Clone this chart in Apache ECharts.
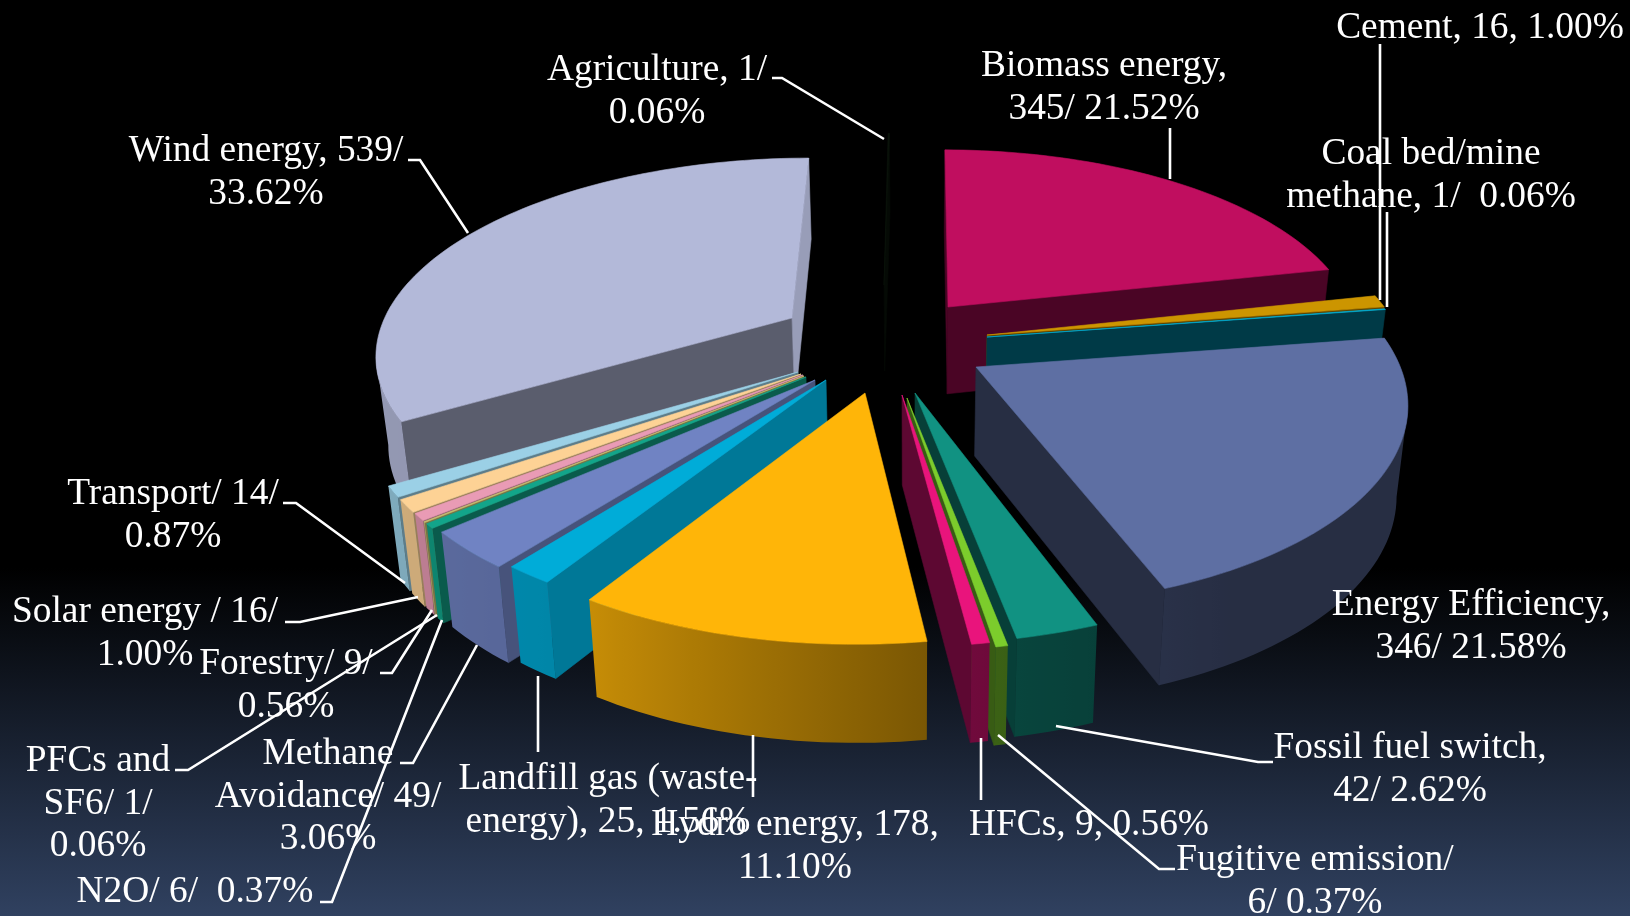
<!DOCTYPE html>
<html><head><meta charset="utf-8">
<style>html,body{margin:0;padding:0;background:#000}#c{width:1630px;height:916px}</style>
<script src="https://cdn.jsdelivr.net/npm/echarts@6/dist/echarts.min.js"></script>
</head><body><div id="c"></div>
<script>
// ---- data, clockwise from 12 o'clock
const categories = ["Agriculture","Biomass energy","Cement","Coal bed/mine methane","Energy Efficiency","Fossil fuel switch","Fugitive emission","HFCs","Hydro energy","Landfill gas (waste-energy)","Methane Avoidance","N2O","PFCs and SF6","Forestry","Solar energy","Transport","Wind energy"];
const values = [1,345,16,1,346,42,6,9,178,25,49,6,1,9,16,14,539];
const labelLines = [
 ["Agriculture, 1/","0.06%"],["Biomass energy,","345/ 21.52%"],["Cement, 16, 1.00%"],["Coal bed/mine","methane, 1/  0.06%"],
 ["Energy Efficiency,","346/ 21.58%"],["Fossil fuel switch,","42/ 2.62%"],["Fugitive emission/","6/ 0.37%"],["HFCs, 9, 0.56%"],
 ["Hydro energy, 178,","11.10%"],["Landfill gas (waste-","energy), 25, 1.56%"],["Methane","Avoidance/ 49/","3.06%"],["N2O/ 6/  0.37%"],
 ["PFCs and","SF6/ 1/","0.06%"],["Forestry/ 9/","0.56%"],["Solar energy / 16/","1.00%"],["Transport/ 14/","0.87%"],["Wind energy, 539/","33.62%"]];
// ---- styling and layout
const topColors = ["#0a130a","#c00e5f","#cc9500","#00b0d8","#5e6fa3","#119282","#7ccc2c","#e9147c","#ffb508","#00acd8","#7083c3","#12a58a","#c8c070","#e99bb5","#fdd295","#9bd0e6","#b3b9d9"];
const cutShadeStart = [.5,.385,.45,.33,.41,.43,.45,.4,.6,.7,.63,.55,.6,.6,.6,.6,.5];
const cutShadeEnd   = [.5,.385,.45,.33,.41,.43,.45,.4,.6,.7,.63,.55,.6,.6,.6,.6,.85];
const apexes = [[884,285],[948,307],[987,335],[987,337],[976,367],[915,393],[907,398],[902,395],[865,393],[826,380],[815,380],[806,377],[804,376],[803,375],[801,374],[798,372],[792,318]];
const paintOrder = [0,16,15,14,13,12,11,10,9,8,1,2,3,4,5,6,7];
const labelX = [657,1104,1480,1431,1471,1410,1315,1089,795,608,328,195,98,286,145,173,266];
const labelY = [70,66.5,28,154,605,748,860,825,825,779,754,892,761,664,612,494,151];
const leaders = [
 [[772,78],[782,78],[884,139]],[[1170,128],[1170,179]],[[1380,44],[1380,300]],[[1387,212],[1387,307]],
 null,[[1273,762],[1258,762],[1056,726]],[[1175,869],[1159,869],[998,735]],[[981,738],[981,800]],
 [[753,735],[753,797]],[[538,752],[538,676]],[[400,763],[413,763],[477,645]],[[320,902],[332,902],[442,620]],
 [[175,770],[188,770],[437,615]],[[380,673],[392,673],[432,610]],[[285,622],[300,622],[418,597]],[[283,503],[296,503],[405,583]],[[408,160],[420,160],[468,233]]];
const VCX=915, VCY=340, RX=415, RY=192, P=0.16, DEPTH=88, SHRINK=0.023;
const FONT='37.4px "Liberation Serif"', LINE_H=42.7;

const total = values.reduce((a,b)=>a+b,0);
const starts = []; values.reduce((acc,v,i)=>{starts[i]=acc/total*360;return acc+v;},0);
function project(X,Y){const s=1/(1+P*Y);return [VCX+RX*X*s,VCY-RY*Y*s,s];}
function unproject(sx,sy){const d=VCY-sy,Y=d/(RY-P*d),s=1/(1+P*Y);return [(sx-VCX)/(RX*s),Y];}
function lower(p){return [VCX+(p[0]-VCX)*(1-SHRINK),p[1]+DEPTH*Math.sqrt(p[2])];}
function shade(hex,f){const n=parseInt(hex.slice(1),16);const c=[n>>16,(n>>8)&255,n&255].map(v=>Math.round(v*f));return `rgb(${c[0]},${c[1]},${c[2]})`;}
function wallShade(a){
 const t=[[0,.41],[150,.41],[172,.48],[212,.78],[240,.82],[360,.87]];
 for(let i=1;i<t.length;i++) if(a<=t[i][0]){const q=(a-t[i-1][0])/(t[i][0]-t[i-1][0]);return t[i-1][1]+q*(t[i][1]-t[i-1][1]);}
 return .87;
}
function poly(points,fill){return {type:'polygon',shape:{points},silent:true,style:{fill,stroke:fill,lineWidth:.6}};}
function xy(o){return [o[0],o[1]];}
function renderSlice(params,api){
 const i=api.value(0), a0=starts[i], a1=a0+api.value(1)/total*360;
 const ap=unproject(apexes[i][0],apexes[i][1]), A=project(ap[0],ap[1]);
 const n=Math.max(1,Math.ceil((a1-a0)/1.5)), arc=[], angs=[];
 for(let k=0;k<=n;k++){const a=a0+(a1-a0)*k/n,r=a*Math.PI/180;angs.push(a);arc.push(project(ap[0]+Math.sin(r),ap[1]+Math.cos(r)));}
 const kids=[], col=topColors[i];
 const cut=(p,q,f)=>{ if(p[0]>q[0]) kids.push(poly([p,q,lower(q),lower(p)].map(xy),f)); };
 cut(A,arc[0],shade(col,cutShadeStart[i]));
 cut(arc[n],A,shade(col,cutShadeEnd[i]));
 // outer wall: the visible run of the rim as one polygon, shaded with angle
 const run=[];
 for(let k=0;k<=n;k++){
  const vis=(k<n&&arc[k][0]>arc[k+1][0])||(k>0&&arc[k-1][0]>arc[k][0]);
  if(vis) run.push(k);
 }
 if(run.length>1){
  const pts=run.map(k=>xy(arc[k])).concat(run.slice().reverse().map(k=>xy(lower(arc[k]))));
  const xHi=arc[run[0]][0], xLo=arc[run[run.length-1]][0];
  const stops=run.map(k=>({offset:Math.min(1,Math.max(0,(arc[k][0]-xLo)/(xHi-xLo))),color:shade(col,wallShade(angs[k]))})).reverse();
  kids.push({type:'polygon',shape:{points:pts},silent:true,style:{fill:{type:'linear',global:true,x:xLo,y:0,x2:xHi,y2:0,colorStops:stops}}});
 }
 kids.push(poly([A].concat(arc).map(xy),col));
 return {type:'group',children:kids};
}
function renderLabel(params,api){
 const i=api.value(0), kids=[];
 if(leaders[i]) kids.push({type:'polyline',shape:{points:leaders[i]},silent:true,style:{fill:'none',stroke:'#fff',lineWidth:2.6}});
 labelLines[i].forEach((t,k)=>kids.push({type:'text',silent:true,style:{text:t,x:labelX[i],y:labelY[i]+k*LINE_H,fill:'#fff',font:FONT,textAlign:'center',textVerticalAlign:'middle'}}));
 return {type:'group',children:kids};
}
const chart=echarts.init(document.getElementById('c'),null,{renderer:'canvas'});
chart.setOption({
 animation:false,
 backgroundColor:new echarts.graphic.LinearGradient(0,0,0,1,[{offset:0,color:'#000'},{offset:.62,color:'#000'},{offset:1,color:'#304160'}]),
 tooltip:{show:false},
 series:[
  {type:'custom',name:'slices',coordinateSystem:'none',renderItem:renderSlice,data:paintOrder.map(i=>({name:categories[i],value:[i,values[i]]})),encode:{},z:2},
  {type:'custom',name:'labels',coordinateSystem:'none',renderItem:renderLabel,data:categories.map((c,i)=>({name:c,value:[i,values[i]]})),encode:{},z:3}
 ]
});
</script></body></html>
